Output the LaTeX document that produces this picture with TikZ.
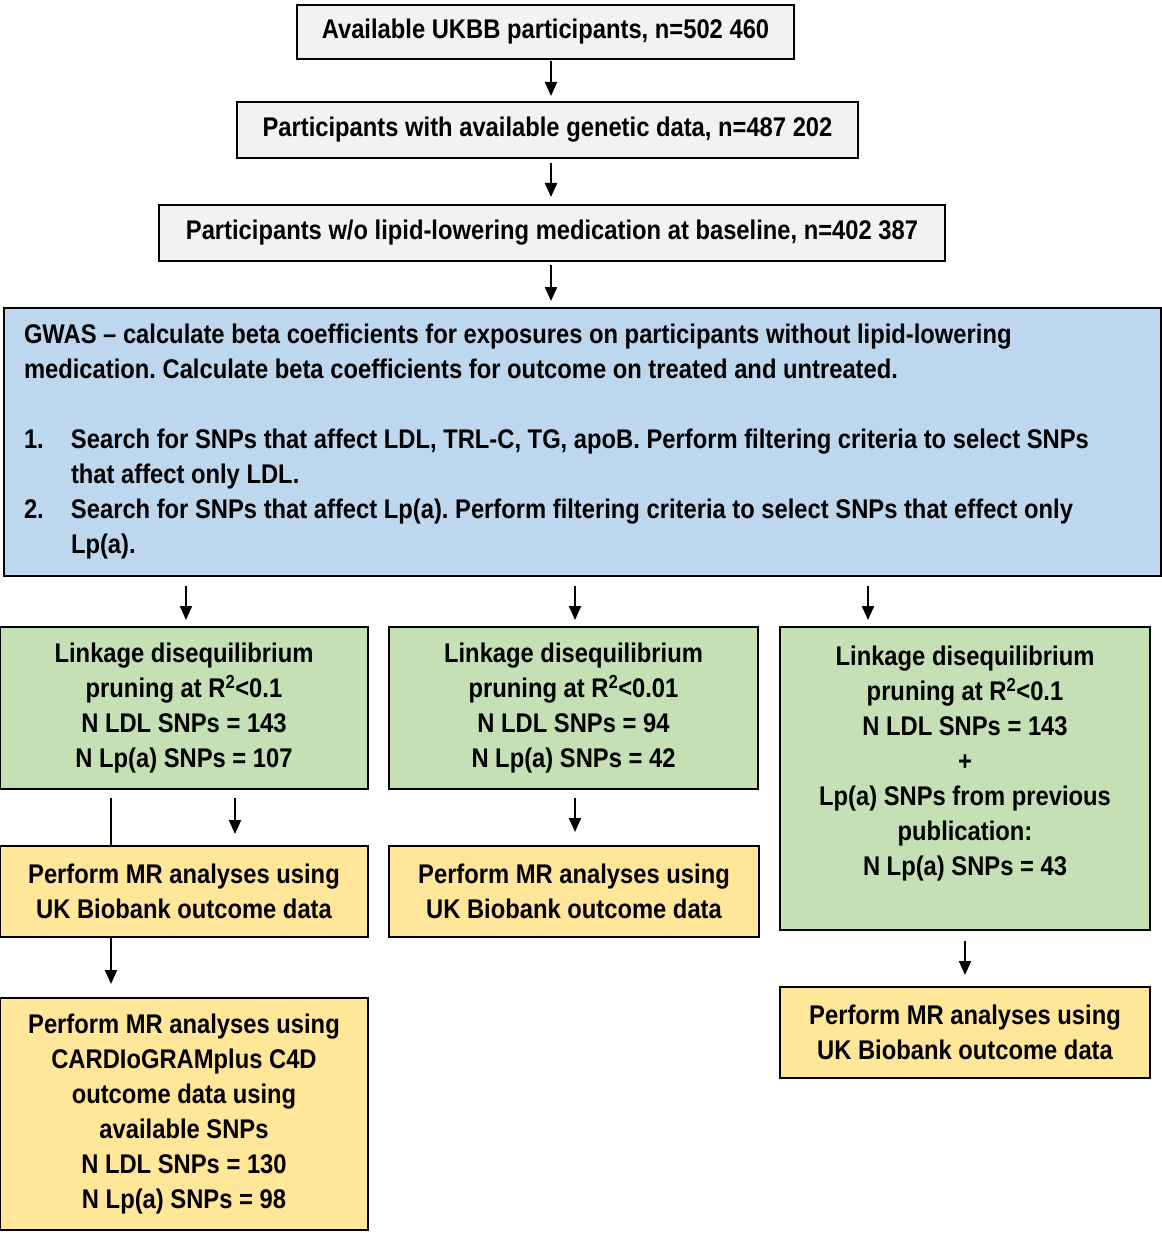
\documentclass[tikz,border=0pt]{standalone}
\usepackage{fontspec}
\setmainfont[FakeStretch=0.88]{Liberation Sans}
\frenchspacing
\usetikzlibrary{arrows.meta,backgrounds}
\definecolor{greyfill}{RGB}{242,242,242}
\definecolor{bluefill}{RGB}{189,215,238}
\definecolor{greenfill}{RGB}{197,224,180}
\definecolor{yellowfill}{RGB}{255,230,153}
\begin{document}
\begin{tikzpicture}
		[x=1pt,y=-1pt,
		box/.style={draw,line width=2pt,inner sep=0pt,align=center,font=\fontsize{27}{35}\selectfont\bfseries},
		greybox/.style={box,fill=greyfill},
		ldbox/.style={box,fill=greenfill,minimum width=368pt},
		mrbox/.style={box,fill=yellowfill,minimum width=368pt},
		arrow/.style={line width=2pt,-{Triangle[length=14pt,width=12pt]},shorten <=3pt,shorten >=6pt}]
		\useasboundingbox (0,0) rectangle (1161,1233);
		\coordinate (colA) at (551,0);
		\coordinate (colB) at (186,0);
		\coordinate (colC) at (575,0);
		\coordinate (colD) at (868,0);
		\coordinate (colE) at (235,0);
		\coordinate (colF) at (111,0);
		\coordinate (colG) at (965,0);
		\node[greybox,minimum width=497pt,minimum height=54pt,name=avail] at (545.5,32) {Available UKBB participants, n=502 460};
		\node[greybox,minimum width=621pt,minimum height=56pt,name=genetic] at (547.5,130) {Participants with available genetic data, n=487 202};
		\node[greybox,minimum width=786pt,minimum height=56pt,name=nomed] at (552,233) {Participants w/o lipid-lowering medication at baseline, n=402 387};
		\node[box,fill=bluefill,align=flush left,text width=1117pt,inner xsep=20pt,minimum height=268pt,name=gwas] at (582.5,442)
			{GWAS -- calculate beta coefficients for exposures on participants without lipid-lowering\\
			medication. Calculate beta coefficients for outcome on treated and untreated.\\
			\mbox{}\\
			\makebox[47pt][l]{1.}Search for SNPs that affect LDL, TRL-C, TG, apoB. Perform filtering criteria to select SNPs\\
			\hspace*{47pt}that affect only LDL.\\
			\makebox[47pt][l]{2.}Search for SNPs that affect Lp(a). Perform filtering criteria to select SNPs that effect only\\
			\hspace*{47pt}Lp(a).};
		\node[ldbox,minimum height=162pt,name=ld1] at (184,708)
			{Linkage disequilibrium\\pruning at R\textsuperscript{2}<0.1\\N LDL SNPs = 143\\N Lp(a) SNPs = 107};
		\node[ldbox,minimum width=369pt,minimum height=162pt,name=ld2] at (573.5,708)
			{Linkage disequilibrium\\pruning at R\textsuperscript{2}<0.01\\N LDL SNPs = 94\\N Lp(a) SNPs = 42};
		\node[ldbox,minimum width=370pt,minimum height=303pt,name=ld3] at (965,778.5)
			{Linkage disequilibrium\\pruning at R\textsuperscript{2}<0.1\\N LDL SNPs = 143\\+\\Lp(a) SNPs from previous\\publication:\\N Lp(a) SNPs = 43\\\mbox{}};
		\node[mrbox,minimum height=91pt,name=mr1] at (184,891.5)
			{Perform MR analyses using\\UK Biobank outcome data};
		\node[mrbox,minimum width=370pt,minimum height=91pt,name=mr2] at (574,891.5)
			{Perform MR analyses using\\UK Biobank outcome data};
		\node[mrbox,minimum width=370pt,minimum height=91pt,name=mr3] at (965,1032.5)
			{Perform MR analyses using\\UK Biobank outcome data};
		\node[mrbox,minimum height=232pt,name=cardio] at (184,1114)
			{Perform MR analyses using\\CARDIoGRAMplus C4D\\outcome data using\\available SNPs\\N LDL SNPs = 130\\N Lp(a) SNPs = 98};
		\draw[arrow,shorten <=1pt,shorten >=5pt] (avail.south -| colA) -- (genetic.north -| colA);
		\draw[arrow,shorten <=4pt,shorten >=7pt] (genetic.south -| colA) -- (nomed.north -| colA);
		\draw[arrow] (nomed.south -| colA) -- (gwas.north -| colA);
		\draw[arrow,shorten <=9pt] (gwas.south -| colB) -- (ld1.north -| colB);
		\draw[arrow,shorten <=9pt] (gwas.south -| colC) -- (ld2.north -| colC);
		\draw[arrow,shorten <=9pt] (gwas.south -| colD) -- (ld3.north -| colD);
		\draw[arrow,shorten <=8pt,shorten >=11pt] (ld1.south -| colE) -- (mr1.north -| colE);
		\draw[arrow,shorten <=8pt,shorten >=13pt] (ld2.south -| colC) -- (mr2.north -| colC);
		\draw[arrow,shorten <=10pt,shorten >=11pt] (ld3.south -| colG) -- (mr3.north -| colG);
		\begin{scope}[on background layer]
		\draw[arrow,shorten <=8pt,shorten >=13pt] (ld1.south -| colF) -- (cardio.north -| colF);
		\end{scope}
	\end{tikzpicture}
\end{document}
